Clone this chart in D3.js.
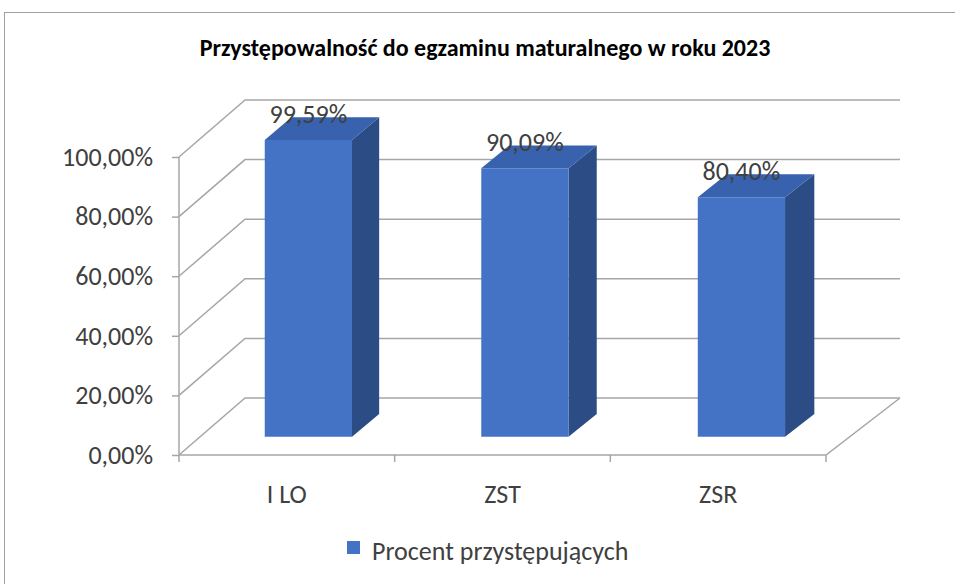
<!DOCTYPE html>
<html>
<head>
<meta charset="utf-8">
<script src="https://cdn.jsdelivr.net/npm/d3@7"></script>
<style>
  body { margin: 0; background: #fff; }
  svg { display: block; font-family: Carlito, Lato, "Open Sans", sans-serif; }
</style>
</head>
<body>
<svg></svg>
<script>
// Chart data
let categories = ["I LO", "ZST", "ZSR"];
let values = [0.9959, 0.9009, 0.8040];
let yTicks = [0, 0.2, 0.4, 0.6, 0.8, 1.0];
let seriesName = "Procent przystępujących";
let title = "Przystępowalność do egzaminu maturalnego w roku 2023";

let width = 955,
    height = 584;

let svg = d3.select("svg")
    .attr("width", width)
    .attr("height", height);

// Plot area on the front plane, plus the oblique depth offset
// (back plane is a little wider on the right, like Excel's perspective)
let plot = {left: 179, right: 826, top: 157, bottom: 455};
let depth = {dxLeft: 66, dxRight: 74, dy: -57};
let barZ = [0.32, 0.72];      // front / back of the bars within the depth
let barFrac = 0.403;          // bar width as a part of the category band

let gridColor = "#a6a6a6";
let textColor = "#404040";
let fontSize = "26px";

let x = d3.scaleBand()
    .domain(categories)
    .range([plot.left, plot.right]);

let y = d3.scaleLinear()
    .domain([0, 1])
    .range([plot.bottom, plot.top]);

let dxScale = d3.scaleLinear()
    .domain([plot.left, plot.right])
    .range([depth.dxLeft, depth.dxRight]);

let fmt = d => d3.format(".2f")(d * 100).replace(".", ",") + "%";

// project a point (front-plane x, front-plane y, depth z) to the screen
let proj = (px, py, z) => [px + z * dxScale(px), py + z * depth.dy];
let pts = arr => arr.map(p => p.join(",")).join(" ");

// Outer frame
svg.append("rect")
    .attr("x", 4.5)
    .attr("y", 12.5)
    .attr("width", 980)
    .attr("height", 600)
    .style("fill", "none")
    .style("stroke", "#a0a0a0")
    .style("stroke-width", 1);

// Title
svg.append("text")
    .attr("x", 485)
    .attr("y", 56)
    .attr("text-anchor", "middle")
    .style("font-size", "24px")
    .style("font-weight", "bold")
    .style("fill", "#000")
    .text(title);

let grid = svg.append("g")
    .style("fill", "none")
    .style("stroke", gridColor)
    .style("stroke-width", 1.5);

// Back wall gridlines and side wall diagonals
yTicks.forEach(function(t) {
    grid.append("polyline")
        .attr("points", pts([
            proj(plot.left, y(t), 0),
            proj(plot.left, y(t), 1),
            proj(plot.right, y(t), 1)
        ]));
});

// Floor: front edge and right edge
grid.append("polyline")
    .attr("points", pts([
        proj(plot.left, y(0), 0),
        proj(plot.right, y(0), 0),
        proj(plot.right, y(0), 1)
    ]));

// Value axis
let yAxis = d3.axisLeft(y)
    .tickValues(yTicks)
    .tickFormat(fmt)
    .tickSize(7)
    .tickPadding(19);

let yAxisG = svg.append("g")
    .attr("transform", "translate(" + plot.left + ",0)")
    .call(yAxis);

yAxisG.select(".domain").remove();
yAxisG.append("line")
    .attr("y1", y(0))
    .attr("y2", y(1))
    .style("stroke", gridColor)
    .style("stroke-width", 1.5);
yAxisG.selectAll(".tick line")
    .style("stroke", gridColor)
    .style("stroke-width", 1.5);
yAxisG.selectAll(".tick text")
    .style("font-family", "Carlito, Lato, 'Open Sans', sans-serif")
    .style("font-size", fontSize)
    .style("fill", textColor);

// Category axis: ticks between bands, labels centred
let edges = categories.map(c => x(c)).concat([plot.right]);
svg.append("g")
    .selectAll("line")
    .data(edges)
    .enter()
    .append("line")
    .attr("x1", d => d)
    .attr("x2", d => d)
    .attr("y1", y(0))
    .attr("y2", y(0) + 7)
    .style("stroke", gridColor)
    .style("stroke-width", 1.5);

svg.append("g")
    .selectAll("text")
    .data(categories)
    .enter()
    .append("text")
    .attr("x", d => x(d) + x.bandwidth() / 2)
    .attr("y", 503)
    .attr("text-anchor", "middle")
    .style("font-size", fontSize)
    .style("fill", textColor)
    .text(d => d);

// 3D bars
let colors = {front: "#4472c4", top: "#3862ad", side: "#2c4c86"};

let bars = svg.append("g")
    .selectAll("g")
    .data(categories.map((c, i) => ({cat: c, value: values[i]})))
    .enter()
    .append("g");

function barGeom(d) {
    let bw = x.bandwidth() * barFrac;
    let x0 = x(d.cat) + (x.bandwidth() - bw) / 2,
        x1 = x0 + bw;
    let z0 = barZ[0], z1 = barZ[1];
    return {
        fbl: proj(x0, y(0), z0), fbr: proj(x1, y(0), z0),
        ftl: proj(x0, y(d.value), z0), ftr: proj(x1, y(d.value), z0),
        bbr: proj(x1, y(0), z1),
        btl: proj(x0, y(d.value), z1), btr: proj(x1, y(d.value), z1)
    };
}

bars.append("polygon")
    .attr("points", d => { let g = barGeom(d); return pts([g.fbr, g.bbr, g.btr, g.ftr]); })
    .style("fill", colors.side);

bars.append("polygon")
    .attr("points", d => { let g = barGeom(d); return pts([g.ftl, g.ftr, g.btr, g.btl]); })
    .style("fill", colors.top);

bars.append("polygon")
    .attr("points", d => { let g = barGeom(d); return pts([g.fbl, g.fbr, g.ftr, g.ftl]); })
    .style("fill", colors.front);

// Data labels
bars.append("text")
    .attr("x", d => { let g = barGeom(d); return (g.ftl[0] + g.ftr[0]) / 2; })
    .attr("y", d => barGeom(d).ftl[1] - 17)
    .attr("text-anchor", "middle")
    .style("font-size", fontSize)
    .style("fill", textColor)
    .text(d => fmt(d.value));

// Legend
let legend = svg.append("g")
    .attr("transform", "translate(347,541)");

legend.append("rect")
    .attr("width", 13)
    .attr("height", 13)
    .style("fill", colors.front);

legend.append("text")
    .attr("x", 25)
    .attr("y", 19)
    .style("font-size", fontSize)
    .style("fill", textColor)
    .text(seriesName);
</script>
</body>
</html>
